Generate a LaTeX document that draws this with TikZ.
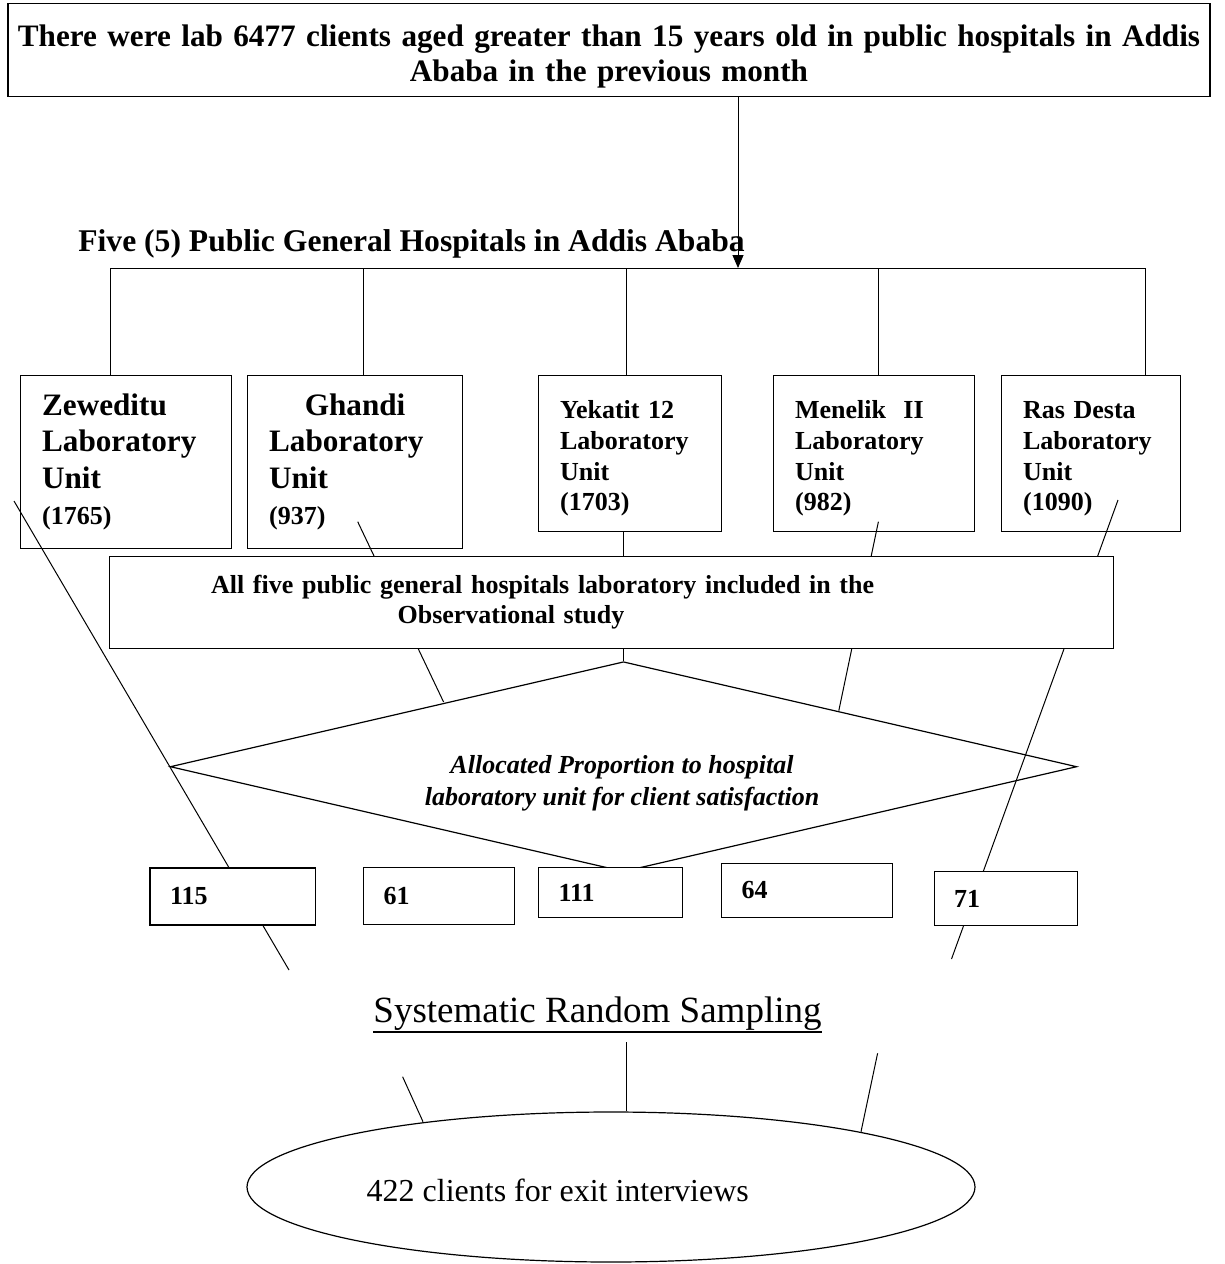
\documentclass[tikz,border=0pt]{standalone}
\usepackage{fontspec}
\setmainfont{Liberation Serif}
\usetikzlibrary{positioning,shapes.geometric,arrows.meta}
\tikzset{
  unitbig/.style={
    rectangle,
    draw=black,line width=0.6pt,
    fill=white,
    anchor=north west,
    inner xsep=10.75pt, inner ysep=0pt,
    align=left,
    minimum height=86.5pt,
    font=\fontsize{15.6}{18.25}\selectfont\bfseries},
  unitsmall/.style={
    unitbig,
    minimum height=78pt,
    execute at begin node={\rule{0pt}{13.9pt}},
    font=\fontsize{13}{15.3}\selectfont\bfseries},
  countbox/.style={
    rectangle,
    draw=black,line width=0.6pt,
    fill=white,
    anchor=north west,
    inner xsep=10pt, inner ysep=0pt,
    align=left,
    font=\fontsize{13}{15}\selectfont\bfseries},
  line/.style = {draw,line width=0.5pt},
}

\begin{document}
\begin{tikzpicture}[x=0.5pt,y=-0.5pt]
  \useasboundingbox (0,0) rectangle (1225,1264);
  % source population
  \node[draw=black,line width=0.8pt,minimum width=601pt,minimum height=46.5pt,
        text width=598pt,inner xsep=1.5pt,inner ysep=0pt,align=center,
        execute at begin node={\rule{0pt}{17.5pt}},
        font=\fontsize{15.6}{17.8}\selectfont\bfseries] (topbox) at (609,50)
        {There were lab 6477 clients aged greater than 15 years old in public hospitals in Addis\\Ababa in the previous month};
  \node[anchor=base west,inner sep=0pt,font=\fontsize{15.8}{18}\selectfont\bfseries] (hospitals) at (78,251)
        {Five (5) Public General Hospitals in Addis Ababa};
  % hospital laboratory units
  \node[unitbig,text width=84pt] (zew) at (20,375)
        {Zeweditu\\Laboratory\\Unit\\{\fontsize{13}{15}\selectfont(1765)}};
  \node[unitbig,text width=86pt] (gha) at (247,375)
        {\makebox[\linewidth]{Ghandi}\\Laboratory\\Unit\\{\fontsize{13}{15}\selectfont(937)}};
  \node[unitsmall,text width=70pt] (yek) at (538,375) {Yekatit 12\\Laboratory\\Unit\\(1703)};
  \node[unitsmall,text width=79pt] (men) at (773,375) {Menelik~~II\\Laboratory\\Unit\\(982)};
  \node[unitsmall,text width=68pt] (ras) at (1001,375) {Ras Desta\\Laboratory\\Unit\\(1090)};
  % bus to the units
  \coordinate (feed) at (738,268);
  \coordinate (tapzew) at (110,268);
  \coordinate (tapgha) at (363,268);
  \coordinate (tapyek) at (626,268);
  \coordinate (tapmen) at (878,268);
  \coordinate (tapras) at (1145,268);
  \draw[line] (tapzew) -- (tapras);
  \foreach \u in {zew,gha,yek,men,ras}
    \draw[line] (tap\u) -- (tap\u |- \u.north);
  \draw[line,-{Triangle[length=6.5pt,width=5.5pt]}] (feed |- topbox.south) -- (feed);
  % lines down through the study
  \coordinate (zewA) at (14,501);
  \coordinate (zewB) at (289,970);
  \coordinate (ghaA) at (357.7,521.7);
  \coordinate (ghaB) at (443.6,702);
  \coordinate (menA) at (878.4,521.7);
  \coordinate (menB) at (838.8,710.7);
  \coordinate (rasA) at (1118,500);
  \coordinate (rasB) at (951.5,959);
  \node[draw=black,line width=0.6pt,diamond,aspect=4.3,minimum width=453.3pt,
        minimum height=105pt,inner sep=0pt] (alloc) at (623.5,766.7) {};
  \draw[line] (zewA) -- (zewB);
  \draw[line] (ghaA) -- (ghaB);
  \draw[line] (menA) -- (menB);
  \draw[line] (rasA) -- (rasB);
  \draw[line] (alloc.north |- yek.south) -- (alloc.north);
  \node[rectangle,draw=black,line width=0.6pt,fill=white,anchor=north west,
        minimum height=46pt,text width=400.5pt,inner xsep=50.75pt,inner ysep=0pt,
        align=left,font=\fontsize{13}{15}\selectfont\bfseries] (allbox) at (109,556)
        {All five public general hospitals laboratory included in the\\\hspace*{93.25pt}Observational study};
  \node[align=center,inner sep=0pt,font=\fontsize{13}{16}\selectfont\bfseries\itshape] (alloctext) at (622,783)
        {Allocated Proportion to hospital\\laboratory unit for client satisfaction};
  % allocated sample sizes
  \node[countbox,text width=62.8pt,minimum height=28.5pt] (n115) at (149.4,867.3) {115};
  \node[countbox,text width=55.5pt,minimum height=28.5pt] (n61) at (363,867) {61};
  \node[countbox,text width=52pt,minimum height=25pt] (n111) at (538,867) {111};
  \node[countbox,text width=65.5pt,minimum height=27pt] (n64) at (721,862.7) {64};
  \node[countbox,text width=51.7pt,minimum height=27pt] (n71) at (933.6,871) {71};
  % sampling and final sample
  \node[anchor=base,inner sep=0pt,font=\fontsize{18.5}{21}\selectfont] (sampling) at (597.5,1022)
        {Systematic Random Sampling};
  \draw[line width=1.2pt] ([yshift=-5pt]sampling.base west) -- ([yshift=-5pt]sampling.base east);
  \node[draw=black,line width=0.6pt,ellipse,minimum width=364pt,minimum height=75pt,inner sep=0pt] (clients) at (611,1187) {};
  \node[anchor=base,inner sep=0pt,font=\fontsize{16}{18}\selectfont] (clientstext) at (557.75,1201.7)
        {422 clients for exit interviews};
  \coordinate (sysC) at (626,1042);
  \coordinate (sysL) at (402.6,1076.7);
  \coordinate (sysLb) at (423,1121.7);
  \coordinate (sysR) at (877.6,1053.3);
  \coordinate (sysRb) at (861,1131.7);
  \draw[line] (sysC) -- (sysC |- clients.north);
  \draw[line] (sysL) -- (sysLb);
  \draw[line] (sysR) -- (sysRb);
\end{tikzpicture}
\end{document}
